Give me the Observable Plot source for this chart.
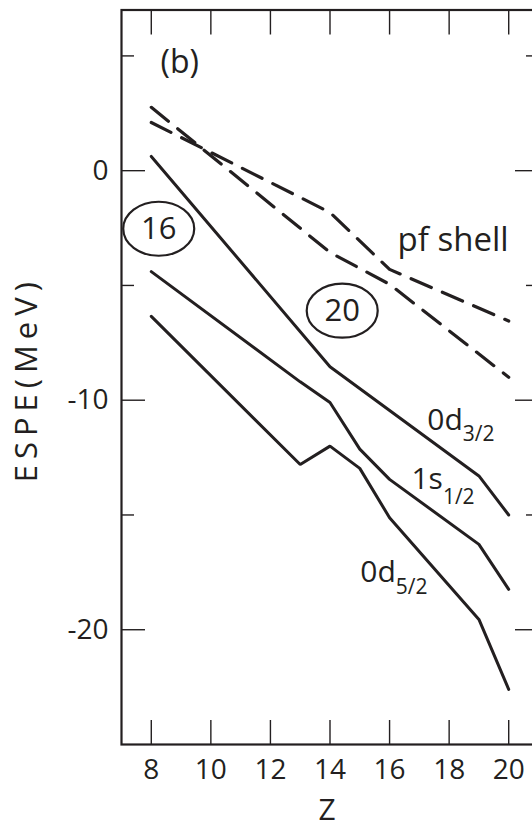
<!DOCTYPE html>
<html>
<head>
<meta charset="utf-8">
<script src="https://cdn.jsdelivr.net/npm/d3@7"></script>
<script src="https://cdn.jsdelivr.net/npm/@observablehq/plot@0.6"></script>
<style>
  html, body { margin: 0; padding: 0; background: #fff; }
  #wrap { width: 532px; height: 829px; overflow: hidden; }
</style>
</head>
<body>
<div id="wrap"></div>
<script>
// ---- data ----
const xTicks = [8, 10, 12, 14, 16, 18, 20];
const yMajor = [0, -10, -20];
const yMinor = [5, -5, -15];

// solid lines (ESPE in MeV vs Z)
const d32Z = [8, 14, 19, 20];
const d32E = [0.62, -8.54, -13.3, -15.0];
const s12Z = [8, 13, 14, 15, 16, 19, 20];
const s12E = [-4.4, -9.2, -10.1, -12.13, -13.45, -16.28, -18.24];
const d52Z = [8, 13, 14, 15, 16, 19, 20];
const d52E = [-6.35, -12.8, -12.0, -12.97, -15.12, -19.55, -22.6];
// dashed pf-shell lines
const pfAZ = [8, 14, 16, 20];
const pfAE = [2.1, -1.82, -4.3, -6.55];
const pfBZ = [8, 14, 16, 20];
const pfBE = [2.76, -3.56, -4.95, -9.0];

// labels
const orbMain = ["0d", "1s", "0d"];
const orbSub = ["3/2", "1/2", "5/2"];
const orbZ = [18.46, 17.79, 16.21];
const orbE = [-11.29, -13.86, -17.93];
const circNum = ["16", "20"];
const circZ = [8.25, 14.41];
const circE = [-2.53, -6.1];
const panelLabel = "(b)";
const panelZ = 8.31, panelE = 4.7;
const pfLabel = "pf shell";
const pfLabelZ = 16.27, pfLabelE = -3.49;

// ---- build tables ----
const toRows = (Z, E, name) => Z.map((z, i) => ({Z: z, E: E[i], series: name}));
const solid = [
  ...toRows(d32Z, d32E, "0d3/2"),
  ...toRows(s12Z, s12E, "1s1/2"),
  ...toRows(d52Z, d52E, "0d5/2")
];
const dashed = [...toRows(pfAZ, pfAE, "pfA"), ...toRows(pfBZ, pfBE, "pfB")];
const orbLabels = orbMain.map((m, i) => ({main: m, sub: orbSub[i], Z: orbZ[i], E: orbE[i]}));
const circles = circNum.map((t, i) => ({t, Z: circZ[i], E: circE[i]}));
const subShift = [11, 15, 12];

const ink = "#231f20";
const FONT = "'Open Sans', 'Noto Sans', sans-serif";

const ellipseSymbol = (rx, ry) => ({
  draw(ctx) {
    const k = 0.5523;
    ctx.moveTo(rx, 0);
    ctx.bezierCurveTo(rx, ry * k, rx * k, ry, 0, ry);
    ctx.bezierCurveTo(-rx * k, ry, -rx, ry * k, -rx, 0);
    ctx.bezierCurveTo(-rx, -ry * k, -rx * k, -ry, 0, -ry);
    ctx.bezierCurveTo(rx * k, -ry, rx, -ry * k, rx, 0);
    ctx.closePath();
  }
});

const chart = Plot.plot({
  width: 538,
  height: 829,
  marginLeft: 121,
  marginRight: 0,
  marginTop: 9.5,
  marginBottom: 85,
  style: {fontFamily: FONT, fontSize: "28px", color: ink, background: "#fff", maxWidth: "none", overflow: "visible"},
  x: {domain: [7, 21]},
  y: {domain: [-25, 7]},
  marks: [
    // ticks (inward)
    Plot.axisX({anchor: "bottom", ticks: xTicks, tickSize: -24, tickFormat: () => "", label: null, stroke: ink, strokeWidth: 1.4}),
    Plot.axisX({anchor: "top", ticks: xTicks, tickSize: -24, tickFormat: () => "", label: null, stroke: ink, strokeWidth: 1.4}),
    Plot.axisY({anchor: "left", ticks: yMajor, tickSize: -24, tickFormat: () => "", label: null, stroke: ink, strokeWidth: 1.4}),
    Plot.axisY({anchor: "left", ticks: yMinor, tickSize: -13, tickFormat: () => "", label: null, stroke: ink, strokeWidth: 1.4}),
    Plot.axisY({anchor: "right", ticks: yMajor, tickSize: -24, tickFormat: () => "", label: null, stroke: ink, strokeWidth: 1.4}),
    Plot.axisY({anchor: "right", ticks: yMinor, tickSize: -13, tickFormat: () => "", label: null, stroke: ink, strokeWidth: 1.4}),
    // tick labels
    Plot.axisX({anchor: "bottom", ticks: xTicks, tickSize: 0, tickPadding: 15, tickFormat: d => String(d), label: null, fill: ink, fontSize: 28}),
    Plot.axisY({anchor: "left", ticks: yMajor, tickSize: 0, tickPadding: 13, tickFormat: d => String(d), label: null, fill: ink, fontSize: 28}),
    // frame
    Plot.frame({stroke: ink, strokeWidth: 2.2}),
    // data lines
    Plot.line(dashed, {x: "Z", y: "E", z: "series", stroke: ink, strokeWidth: 3.2, strokeDasharray: "22 12", strokeLinejoin: "round"}),
    Plot.line(solid, {x: "Z", y: "E", z: "series", stroke: ink, strokeWidth: 3, strokeLinejoin: "miter"}),
    // circled magic numbers
    Plot.dot(circles, {x: "Z", y: "E", symbol: ellipseSymbol(35.5, 27), stroke: ink, strokeWidth: 2.2, fill: "none"}),
    Plot.text(circles, {x: "Z", y: "E", text: "t", fontSize: 31, fill: ink, lineAnchor: "middle"}),
    // orbital labels
    Plot.text(orbLabels, {x: "Z", y: "E", text: "main", textAnchor: "end", lineAnchor: "bottom", fontSize: 30, fill: ink}),
    ...orbLabels.map((d, i) => Plot.text([d], {x: "Z", y: "E", text: "sub", textAnchor: "start", lineAnchor: "bottom", dy: subShift[i], fontSize: 21, fill: ink})),
    // other annotations
    Plot.text([pfLabel], {x: pfLabelZ, y: pfLabelE, textAnchor: "start", lineAnchor: "bottom", fontSize: 33, fill: ink}),
    Plot.text([panelLabel], {x: panelZ, y: panelE, textAnchor: "start", lineAnchor: "middle", fontSize: 32, fill: ink}),
    // axis titles
    Plot.text(["Z"], {frameAnchor: "bottom", dy: 66, dx: -3, textAnchor: "middle", lineAnchor: "middle", fontSize: 30, fill: ink}),
    Plot.text(["ESPE(MeV)"], {frameAnchor: "left", rotate: -90, dx: -94, dy: 2, textAnchor: "middle", lineAnchor: "middle", fontSize: 31, fill: ink})
  ]
});

chart.querySelectorAll("text").forEach(t => {
  if (t.textContent === "ESPE(MeV)") t.setAttribute("letter-spacing", "6");
});
document.getElementById("wrap").appendChild(chart);
</script>
</body>
</html>
